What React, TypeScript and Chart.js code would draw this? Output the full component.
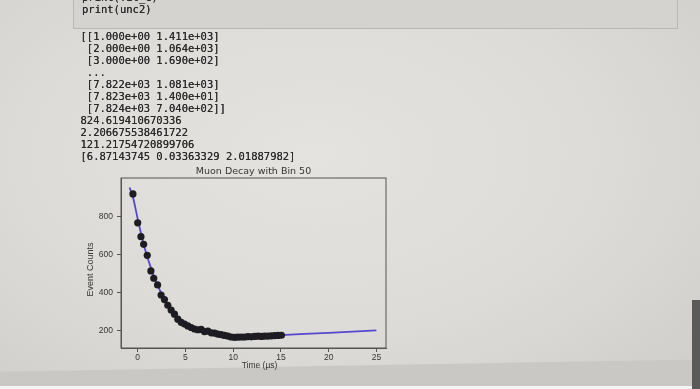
import React, { useEffect, useRef } from "react";
import { Chart, registerables } from "chart.js";

Chart.register(...registerables);

const codeLines = ["print(fit_c)", "print(unc2)"];

const outputLines = [
  "[[1.000e+00 1.411e+03]",
  " [2.000e+00 1.064e+03]",
  " [3.000e+00 1.690e+02]",
  " ...",
  " [7.822e+03 1.081e+03]",
  " [7.823e+03 1.400e+01]",
  " [7.824e+03 7.040e+02]]",
  "824.619410670336",
  "2.206675538461722",
  "121.21754720899706",
  "[6.87143745 0.03363329 2.01887982]",
];

const chartTitle = "Muon Decay with Bin 50";
const xLabel = "Time (\u00b5s)";
const yLabel = "Event Counts";

const xTickValues = [0, 5, 10, 15, 20, 25];
const yTickValues = [200, 400, 600, 800];

const dataTimes = [
  -0.5, 0.0, 0.34, 0.62, 1.0, 1.38, 1.68, 2.08, 2.45, 2.8, 3.15, 3.5, 3.85, 4.2,
  4.55, 4.9, 5.25, 5.6, 5.95, 6.3, 6.65, 7.0, 7.35, 7.7, 8.05, 8.4, 8.75, 9.1,
  9.45, 9.8, 10.15, 10.5, 10.85, 11.2, 11.55, 11.9, 12.25, 12.6, 12.95, 13.3,
  13.65, 14.0, 14.35, 14.7, 15.05,
];
const dataCounts = [
  921, 769, 696, 656, 598, 516, 477, 442, 389, 365, 335, 310, 288, 262, 245,
  236, 226, 218, 210, 206, 208, 196, 199, 190, 188, 183, 180, 176, 172, 168,
  166, 167, 168, 168, 170, 169, 171, 172, 171, 173, 173, 174, 175, 176, 177,
];

const fitTimes = [
  -0.85, -0.5, 0, 0.5, 1, 1.5, 2, 2.5, 3, 3.5, 4, 4.5, 5, 5.5, 6, 7, 8, 9, 10,
  11, 12, 13, 15, 20, 25,
];
const fitCounts = [
  955, 905, 790, 680, 590, 515, 450, 395, 350, 312, 280, 255, 235, 220, 208, 193,
  183, 177, 173, 172, 172, 173, 178, 190, 203,
];

const CANVAS_LEFT = 70;
const CANVAS_TOP = 160;
const CANVAS_W = 330;
const CANVAS_H = 215;

const textColor = "#353535";
const axisColor = "#555555";

function ChartBox() {
  const ref = useRef<HTMLCanvasElement | null>(null);
  useEffect(() => {
    if (!ref.current) return;
    const decor = {
      id: "decor",
      afterDraw(chart: any) {
        const { ctx, chartArea } = chart;
        ctx.save();
        ctx.strokeStyle = axisColor;
        ctx.lineWidth = 1;
        ctx.strokeRect(
          chartArea.left,
          chartArea.top,
          chartArea.right - chartArea.left,
          chartArea.bottom - chartArea.top
        );
        ctx.fillStyle = textColor;
        ctx.textAlign = "center";
        ctx.textBaseline = "middle";
        ctx.font = "9.5px 'DejaVu Sans'";
        ctx.fillText(chartTitle, (chartArea.left + chartArea.right) / 2, 11.7);
        ctx.font = "8.5px 'Liberation Sans'";
        ctx.fillText(xLabel, 189.5, 206);
        ctx.translate(21, 109.5);
        ctx.rotate(-Math.PI / 2);
        ctx.font = "9px 'Liberation Sans'";
        ctx.fillText(yLabel, 0, 0);
        ctx.restore();
      },
    };
    const chart = new Chart(ref.current, {
      type: "scatter",
      data: {
        datasets: [
          {
            label: "data",
            data: dataTimes.map((t, i) => ({ x: t, y: dataCounts[i] })),
            backgroundColor: "#1c1c22",
            borderColor: "#1c1c22",
            pointRadius: 3.6,
            pointBorderWidth: 0,
            showLine: false,
          },
          {
            label: "fit",
            data: fitTimes.map((t, i) => ({ x: t, y: fitCounts[i] })),
            borderColor: "rgb(84,72,205)",
            backgroundColor: "rgb(84,72,205)",
            borderWidth: 1.8,
            pointRadius: 0,
            showLine: true,
            tension: 0.3,
          },
        ],
      },
      options: {
        animation: false,
        responsive: false,
        maintainAspectRatio: false,
        devicePixelRatio: 1,
        layout: { padding: { top: 18, right: 14, left: 0, bottom: 0 } },
        plugins: {
          legend: { display: false },
          tooltip: { enabled: false },
          title: { display: false },
        },
        scales: {
          x: {
            type: "linear",
            min: -1.75,
            max: 26.0,
            afterBuildTicks: (s: any) => {
              s.ticks = xTickValues.map((v) => ({ value: v }));
            },
            afterFit: (s: any) => {
              s.height = 27;
            },
            ticks: {
              color: textColor,
              font: { family: "'Liberation Sans'", size: 8.5 },
              padding: 1,
              autoSkip: false,
              maxRotation: 0,
            },
            grid: {
              drawOnChartArea: false,
              drawTicks: true,
              tickLength: 4,
              color: axisColor,
            },
            border: { display: true, color: axisColor },
          },
          y: {
            type: "linear",
            min: 110,
            max: 1005,
            afterBuildTicks: (s: any) => {
              s.ticks = yTickValues.map((v) => ({ value: v }));
            },
            afterFit: (s: any) => {
              s.width = 51;
            },
            ticks: {
              color: textColor,
              font: { family: "'Liberation Sans'", size: 8.5 },
              padding: 4,
              autoSkip: false,
            },
            grid: {
              drawOnChartArea: false,
              drawTicks: true,
              tickLength: 4,
              color: axisColor,
            },
            border: { display: true, color: axisColor },
          },
        },
      },
      plugins: [decor],
    });
    return () => chart.destroy();
  }, []);
  return (
    <canvas
      ref={ref}
      width={CANVAS_W}
      height={CANVAS_H}
      style={{
        position: "absolute",
        left: CANVAS_LEFT,
        top: CANVAS_TOP,
        width: CANVAS_W,
        height: CANVAS_H,
      }}
    />
  );
}

export default function App() {
  const mono = "'DejaVu Sans Mono', monospace";
  const textShadow = "0 0 0.4px #2e2e2e";
  return (
    <div
      style={{
        position: "fixed",
        left: 0,
        top: 0,
        width: 700,
        height: 389,
        overflow: "hidden",
        background:
          "radial-gradient(ellipse at 45% 40%, #e5e3df 0%, #dddbd7 55%, #cfcdc9 100%)",
      }}
    >
      <div
        style={{
          position: "absolute",
          left: -20,
          top: 372,
          width: 740,
          height: 30,
          background: "#c9c8c5",
          transform: "rotate(-1deg)",
          transformOrigin: "left top",
        }}
      />
      <div
        style={{
          position: "absolute",
          left: 0,
          top: 386,
          width: 700,
          height: 3,
          background: "#f4f4f4",
        }}
      />
      <div
        style={{
          position: "absolute",
          left: 692,
          top: 300,
          width: 8,
          height: 89,
          background: "#5a5a5a",
        }}
      />
      <div
        style={{
          position: "absolute",
          left: 73,
          top: -2,
          width: 605,
          height: 31,
          background: "#d4d3d0",
          border: "1px solid #b8b8b6",
          boxSizing: "border-box",
        }}
      />
      <pre
        style={{
          position: "absolute",
          left: 82,
          top: -9.5,
          margin: 0,
          fontFamily: mono,
          fontSize: 10.5,
          lineHeight: "12.2px",
          color: "#2a2a2a",
          textShadow,
        }}
      >
        {codeLines.join("\n")}
      </pre>
      <pre
        style={{
          position: "absolute",
          left: 80.5,
          top: 29.7,
          margin: 0,
          fontFamily: mono,
          fontSize: 10.5,
          lineHeight: "12.05px",
          color: "#2a2a2a",
          textShadow,
        }}
      >
        {outputLines.join("\n")}
      </pre>
      <ChartBox />
    </div>
  );
}
